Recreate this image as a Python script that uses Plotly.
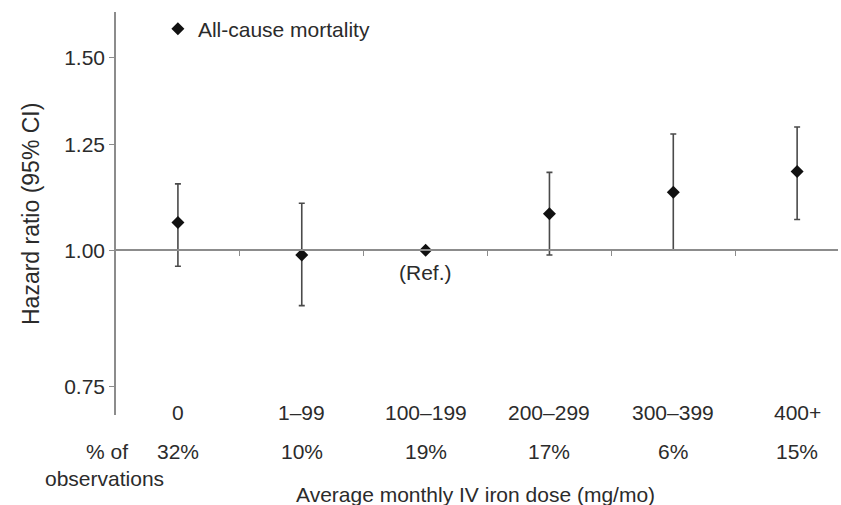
import math
import plotly.graph_objects as go

categories = ["0", "1–99", "100–199", "200–299", "300–399", "400+"]
pct_obs = ["32%", "10%", "19%", "17%", "6%", "15%"]
hr = [1.06, 0.99, 1.00, 1.08, 1.13, 1.18]
ci_low = [0.967, 0.89, 1.00, 0.99, 1.00, 1.067]
ci_high = [1.15, 1.104, 1.00, 1.178, 1.277, 1.296]
y_ticks = [0.75, 1.00, 1.25, 1.50]
y_range = [0.707, 1.651]

FONT = "Liberation Sans, Arial, sans-serif"
TXT = "#2b2b2b"
AX = "#8c8c8c"
FS = 21

xpos = list(range(len(categories)))
err_plus = [h - m for h, m in zip(ci_high, hr)]
err_minus = [m - l for m, l in zip(hr, ci_low)]

fig = go.Figure()
fig.add_trace(go.Scatter(
    x=xpos, y=hr, mode="markers", name="All-cause mortality",
    marker=dict(symbol="diamond", size=10, color="#111111"),
    error_y=dict(type="data", symmetric=False, array=err_plus, arrayminus=err_minus,
                 color="#4a4a4a", thickness=1.6, width=3),
))

ylo, yhi = math.log10(y_range[0]), math.log10(y_range[1])
ref_pos = (math.log10(1.0) - ylo) / (yhi - ylo)

def py(pix):
    return (415 - pix) / 403

def px(pix):
    return (pix - 116) / 722

fig.update_layout(
    width=841, height=505,
    margin=dict(l=116, r=3, t=12, b=90),
    paper_bgcolor="white", plot_bgcolor="white",
    font=dict(family=FONT, size=FS, color=TXT),
    showlegend=True,
    legend=dict(x=0.058, y=py(29), xanchor="left", yanchor="middle",
                bgcolor="rgba(0,0,0,0)", font=dict(size=FS, color=TXT),
                itemwidth=30),
    xaxis=dict(range=[-0.5, 5.33], anchor="free", position=ref_pos,
               showline=True, linecolor=AX, linewidth=2,
               tickvals=[p + 0.5 for p in xpos[:-1]], ticks="outside", ticklen=5,
               tickcolor=AX, tickwidth=1.3,
               showticklabels=False, showgrid=False, zeroline=False),
    yaxis=dict(type="log", range=[ylo, yhi], showline=True, linecolor=AX, linewidth=1.6,
               tickvals=y_ticks, ticktext=[f"{v:.2f}" for v in y_ticks],
               ticks="outside", ticklen=5, tickcolor=AX, tickwidth=1.3,
               showgrid=False, zeroline=False, tickfont=dict(size=FS, color=TXT)),
)

anns = []
for i, (c, p) in enumerate(zip(categories, pct_obs)):
    anns.append(dict(x=i, y=py(412), xref="x", yref="paper", text=c, showarrow=False,
                     font=dict(size=FS, color=TXT), xanchor="center", yanchor="middle"))
    anns.append(dict(x=i, y=py(451), xref="x", yref="paper", text=p, showarrow=False,
                     font=dict(size=FS, color=TXT), xanchor="center", yanchor="middle"))
anns.append(dict(x=px(107), y=py(451), xref="paper", yref="paper", text="% of",
                 showarrow=False, font=dict(size=FS, color=TXT), xanchor="center", yanchor="middle"))
anns.append(dict(x=px(104), y=py(478), xref="paper", yref="paper", text="observations",
                 showarrow=False, font=dict(size=FS, color=TXT), xanchor="center", yanchor="middle"))
anns.append(dict(x=px(475), y=py(494), xref="paper", yref="paper",
                 text="Average monthly IV iron dose (mg/mo)",
                 showarrow=False, font=dict(size=FS, color=TXT), xanchor="center", yanchor="middle"))
anns.append(dict(x=px(31), y=py(214), xref="paper", yref="paper",
                 text="Hazard ratio (95% CI)", textangle=-90,
                 showarrow=False, font=dict(size=23, color=TXT), xanchor="center", yanchor="middle"))
ref_idx = categories.index("100–199")
anns.append(dict(x=ref_idx, y=py(272), xref="x", yref="paper", text="(Ref.)",
                 showarrow=False, font=dict(size=FS, color=TXT), xanchor="center", yanchor="middle"))
fig.update_layout(annotations=anns)

fig.write_html("out.html")
